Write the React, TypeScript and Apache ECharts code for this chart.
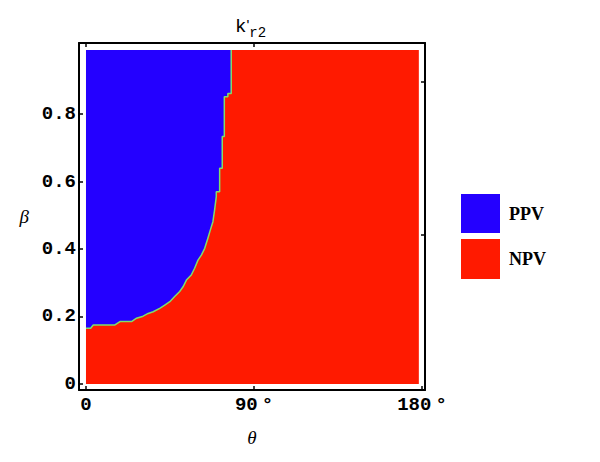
import { useEffect, useRef } from 'react'
import * as echarts from 'echarts'

// boundary between the PPV (blue) and NPV (red) regions
const boundaryTheta = [0, 2.5, 3.9, 15.5, 18.2, 24.4, 27.1, 30.6, 33.3, 36.0, 39.5, 42.2, 44.9, 47.5, 50.2, 52.0, 53.8, 56.4, 58.2, 60.0, 61.8, 63.6, 65.3, 66.6, 68.0, 68.9, 69.8, 69.8, 71.6, 71.6, 73.0, 73.0, 74.1, 74.1, 76.0, 76.0, 77.8, 77.8]
const boundaryBeta = [0.165, 0.165, 0.175, 0.175, 0.185, 0.185, 0.195, 0.201, 0.209, 0.214, 0.224, 0.234, 0.244, 0.259, 0.274, 0.288, 0.308, 0.323, 0.343, 0.367, 0.382, 0.402, 0.432, 0.456, 0.481, 0.516, 0.555, 0.570, 0.570, 0.639, 0.639, 0.733, 0.733, 0.851, 0.851, 0.861, 0.861, 0.99]

// whole computed region
const regionTheta = [0, 178.3]
const regionTop = 0.99

// ticks
const xTicks = [0, 90, 180]
const xTopTicks = [0, 90]
const yTicks = [0, 0.2, 0.4, 0.6, 0.8]
const yRightTicks = [0.441, 0.895]

const legendNames = ['PPV', 'NPV']

const BLUE = '#2400ff'
const RED = '#ff1a00'
const MONO = 'Liberation Mono'

const App: React.FC = () => {
  const chartRef = useRef<HTMLDivElement | null>(null)

  useEffect(() => {
    if (chartRef.current === null) return
    const chart = echarts.init(chartRef.current, null, { renderer: 'svg' })

    const frameLine = { show: true, onZero: false, lineStyle: { color: '#000', width: 2 } }
    const tickStyle = { color: '#000', width: 1.5 }

    const option = {
      animation: false,
      backgroundColor: '#fff',
      grid: { left: 79, right: 175, top: 43, bottom: 72 },
      xAxis: [
        {
          type: 'value',
          min: -3.74,
          max: 181.6,
          axisLine: frameLine,
          splitLine: { show: false },
          axisTick: { show: true, inside: true, length: 4, customValues: xTicks, lineStyle: tickStyle },
          axisLabel: {
            margin: 5,
            customValues: xTicks,
            formatter: (v: number) => (v === 0 ? '{n|0}' : '{n|' + v + '}{d|°}'),
            rich: {
              n: { fontFamily: MONO, fontSize: 19, fontWeight: 'bold', color: '#000' },
              d: { fontFamily: MONO, fontSize: 19, fontWeight: 'bold', color: '#000', padding: [0, 0, 0, 4] }
            }
          },
          name: 'θ',
          nameLocation: 'middle',
          nameGap: 38,
          nameTextStyle: { fontFamily: 'Liberation Serif', fontStyle: 'italic', fontSize: 19, color: '#000' }
        },
        {
          type: 'value',
          position: 'top',
          min: -3.74,
          max: 181.6,
          axisLine: frameLine,
          splitLine: { show: false },
          axisTick: { show: true, inside: true, length: 4, customValues: xTopTicks, lineStyle: tickStyle },
          axisLabel: { show: false }
        }
      ],
      yAxis: [
        {
          type: 'value',
          min: -0.0178,
          max: 1.0104,
          axisLine: frameLine,
          splitLine: { show: false },
          axisTick: { show: true, inside: true, length: 4, customValues: yTicks, lineStyle: tickStyle },
          axisLabel: {
            fontFamily: MONO,
            fontSize: 19,
            fontWeight: 'bold',
            color: '#000',
            margin: 3,
            customValues: yTicks,
            formatter: (v: number) => (v === 0 ? '0' : v.toFixed(1))
          },
          name: 'β',
          nameLocation: 'middle',
          nameRotate: 0,
          nameGap: 50,
          nameTextStyle: { fontFamily: 'Liberation Serif', fontStyle: 'italic', fontSize: 19, color: '#000' }
        },
        {
          type: 'value',
          position: 'right',
          min: -0.0178,
          max: 1.0104,
          axisLine: frameLine,
          splitLine: { show: false },
          axisTick: { show: true, inside: true, length: 4, customValues: yRightTicks, lineStyle: tickStyle },
          axisLabel: { show: false }
        }
      ],
      series: [
        {
          name: legendNames[1],
          type: 'line',
          showSymbol: false,
          silent: true,
          data: regionTheta.map((t) => [t, regionTop]),
          lineStyle: { width: 0, color: RED },
          areaStyle: { color: RED, opacity: 1, origin: 0 }
        },
        {
          name: legendNames[0],
          type: 'line',
          showSymbol: false,
          silent: true,
          data: boundaryTheta.map((t, i) => [t, boundaryBeta[i]]),
          lineStyle: { width: 1.5, color: '#7ee06a' },
          areaStyle: { color: BLUE, opacity: 1, origin: regionTop }
        }
      ],
      graphic: [
        // title k'_r2
        {
          type: 'text',
          left: 235,
          top: 17,
          style: {
            text: "{k|k}{p|'}{s|r2}",
            rich: {
              k: { fontFamily: MONO, fontSize: 19, height: 24, verticalAlign: 'top', fill: '#000' },
              p: { fontFamily: 'Liberation Sans', fontSize: 15, height: 20, verticalAlign: 'top', fill: '#000' },
              s: { fontFamily: MONO, fontSize: 14, height: 12, verticalAlign: 'bottom', fill: '#000' }
            }
          }
        },
        // legend
        { type: 'rect', shape: { x: 461, y: 194, width: 39, height: 39 }, style: { fill: BLUE } },
        { type: 'rect', shape: { x: 461, y: 239, width: 39, height: 40 }, style: { fill: RED } },
        { type: 'text', left: 509, top: 205, style: { text: legendNames[0], fontFamily: 'Liberation Serif', fontSize: 18, fontWeight: 'bold', fill: '#000' } },
        { type: 'text', left: 509, top: 250, style: { text: legendNames[1], fontFamily: 'Liberation Serif', fontSize: 18, fontWeight: 'bold', fill: '#000' } }
      ]
    }

    chart.setOption(option)
    return () => {
      chart.dispose()
    }
  }, [])

  return (
    <div
      ref={chartRef}
      style={{ position: 'fixed', left: 0, top: 0, width: 600, height: 462 }}
    ></div>
  )
}

export default App
